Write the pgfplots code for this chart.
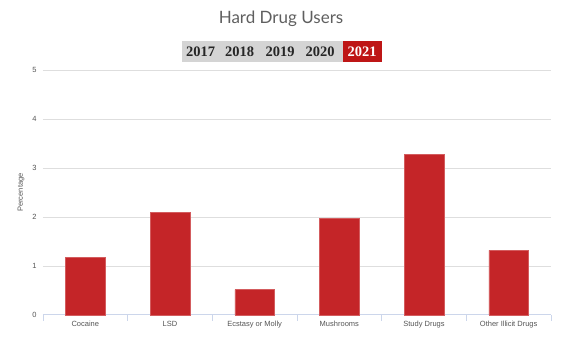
\documentclass[border=0pt]{standalone}
\usepackage{fontspec}
\setmainfont{Liberation Sans}
\newfontfamily\titlefont{Lato}
\newfontfamily\btnfont{Liberation Serif}
\usepackage{pgfplots}
\pgfplotsset{compat=1.18}
\definecolor{barred}{RGB}{196,37,40}
\definecolor{btnred}{RGB}{190,22,22}
\definecolor{btngray}{RGB}{212,212,212}
\definecolor{gridgray}{RGB}{222,222,222}
\definecolor{axisblue}{RGB}{204,214,235}
\definecolor{labgray}{RGB}{85,85,85}
\definecolor{titlegray}{RGB}{95,95,95}
\begin{document}
\begin{tikzpicture}[x=1pt,y=1pt]
\begin{axis}[
  at={(43pt,38pt)}, anchor=south west,
  scale only axis, width=508pt, height=245pt,
  xmin=-0.5, xmax=5.5, ymin=0, ymax=5,
  axis line style={draw=none},
  ytick={0,1,2,3,4,5},
  /pgf/number format/assume math mode=true,
  ymajorgrids, grid style={gridgray, line width=1pt},
  xtick={0,1,2,3,4,5},
  xticklabels={Cocaine,LSD,Ecstasy or Molly,Mushrooms,Study Drugs,Other Illicit Drugs},
  minor xtick={-0.5,0.5,1.5,2.5,3.5,4.5,5.5},
  xtick pos=left, ytick pos=left,
  tick align=outside,
  major tick length=0pt,
  minor tick length=6pt,
  minor tick style={axisblue, line width=0.8pt},
  major tick style={draw=none},
  tick label style={font=\fontsize{7.5}{9}\selectfont, text=labgray},
  xticklabel style={yshift=-3pt},
  yticklabel style={xshift=-3pt},
  ylabel={Percentage},
  ylabel style={font=\fontsize{7.5}{9}\selectfont, text=labgray, yshift=1pt},
  clip=false,
]
\draw[axisblue, line width=1pt] (axis cs:-0.5,0) -- (axis cs:5.5,0);
\addplot[ybar, bar width=0.47, fill=barred, draw=barred!75!white, line width=0.5pt]
  coordinates {(0,1.17) (1,2.10) (2,0.52) (3,1.97) (4,3.28) (5,1.32)};
\end{axis}
\node[font=\titlefont\fontsize{17}{20}\selectfont, text=titlegray] at (281,334) {Hard Drug Users};
\fill[btngray] (181.5,290.5) rectangle (342.5,312);
\fill[btnred] (342.5,290.5) rectangle (381.5,312);
\begin{scope}[every node/.style={font=\btnfont\bfseries\fontsize{14.5}{16}\selectfont, inner sep=0pt}]
\node[text=black!85] at (200.5,301) {2017};
\node[text=black!85] at (239.5,301) {2018};
\node[text=black!85] at (280,301) {2019};
\node[text=black!85] at (320,301) {2020};
\node[text=white] at (362,301) {2021};
\end{scope}
\pgfresetboundingbox
\path (0,0) rectangle (575,353);
\end{tikzpicture}
\end{document}
